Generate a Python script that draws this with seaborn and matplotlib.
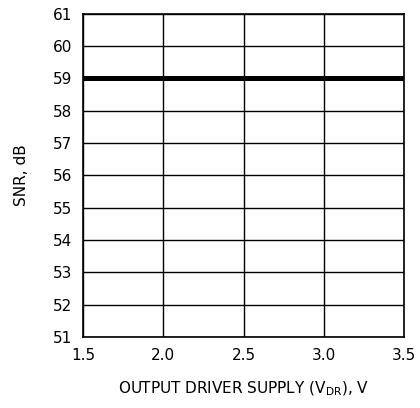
import matplotlib
matplotlib.use("Agg")
import matplotlib.pyplot as plt
import seaborn as sns

# values
supply_v = [1.5, 2.0, 2.5, 3.0, 3.5]
snr_db = [59, 59, 59, 59, 59]
x_ticks = [1.5, 2.0, 2.5, 3.0, 3.5]
y_ticks = list(range(51, 62))

sns.set_style("white")
plt.rcParams["font.family"] = ["DejaVu Sans"]
plt.rcParams["text.color"] = "black"
plt.rcParams["axes.labelcolor"] = "black"

fig = plt.figure(figsize=(4.2, 4.08), dpi=100)
ax = fig.add_axes([0.198, 0.174, 0.764, 0.792])

sns.lineplot(x=supply_v, y=snr_db, color="black", linewidth=3.6, ax=ax)

ax.set_xlim(1.5, 3.5)
ax.set_ylim(51, 61)
ax.set_xticks(x_ticks)
ax.set_xticklabels([f"{v:.1f}" for v in x_ticks])
ax.set_yticks(y_ticks)
ax.grid(True, color="black", linewidth=1.0)
ax.tick_params(length=0, labelsize=11, colors="black", pad=8)
for s in ax.spines.values():
    s.set_color("black")
    s.set_linewidth(1.2)

ax.set_xlabel("OUTPUT DRIVER SUPPLY (V$_{\\mathregular{DR}}$), V", fontsize=11, labelpad=12)
ax.set_ylabel("SNR, dB", fontsize=11, labelpad=17)

fig.savefig("out.png", dpi=100)
